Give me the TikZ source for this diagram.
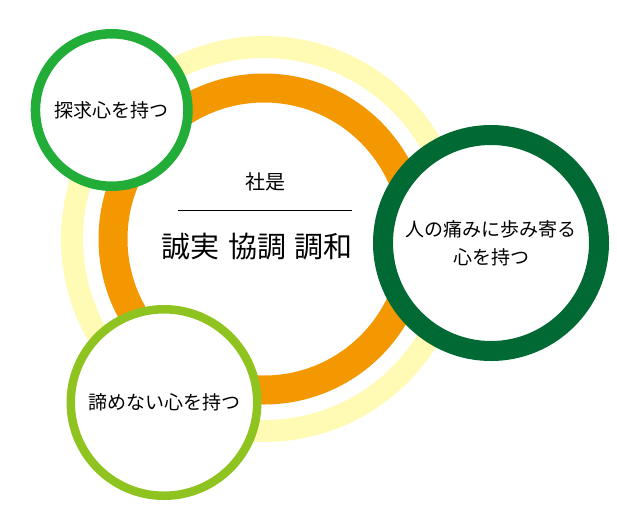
\documentclass[tikz,border=0pt]{standalone}
\usepackage{fontspec}
\usepackage{xcolor}
\usepackage{tikz}
\newfontfamily\jpfont{Noto Sans CJK JP}
\definecolor{paleyellow}{HTML}{FFFAB4}
\definecolor{ringorange}{HTML}{F39800}
\definecolor{leafgreen}{HTML}{22AC38}
\definecolor{deepgreen}{HTML}{006934}
\definecolor{limegreen}{HTML}{8FC31F}

\begin{document}
\begin{tikzpicture}[x=1pt, y=-1pt, every node/.style={align=center, inner sep=0pt},
ring/.style={circle, draw, fill=none},
badge/.style={circle, draw, fill=white, font=\jpfont\fontsize{19}{28}\selectfont}]
\useasboundingbox (0,0) rectangle (617,517);
\node[ring, draw=paleyellow, line width=22pt, minimum size=384pt] (outerring) at (264,239) {};
\node[ring, draw=ringorange, line width=29pt, minimum size=302pt] (innerring) at (264,239) {};
\node[font=\jpfont\fontsize{20}{24}\selectfont] (title) at (265,182) {社是};
\coordinate (ruleleft) at (178,210);
\coordinate (ruleright) at (352,210);
\draw[line width=1pt] (ruleleft) -- (ruleright);
\node[font=\jpfont\fontsize{29}{32}\selectfont] (motto) at (257,247) {誠実\hspace{0.3em}協調\hspace{0.3em}調和};
\node[badge, draw=leafgreen, line width=9.5pt, minimum size=152.5pt] (inquiry) at (111.7,110) {探求心を持つ};
\node[badge, draw=deepgreen, line width=20pt, minimum size=216pt] (empathy) at (491,243) {人の痛みに歩み寄る\\心を持つ};
\node[badge, draw=limegreen, line width=8.5pt, minimum size=186.5pt] (persist) at (164,402.5) {諦めない心を持つ};
\end{tikzpicture}
\end{document}
